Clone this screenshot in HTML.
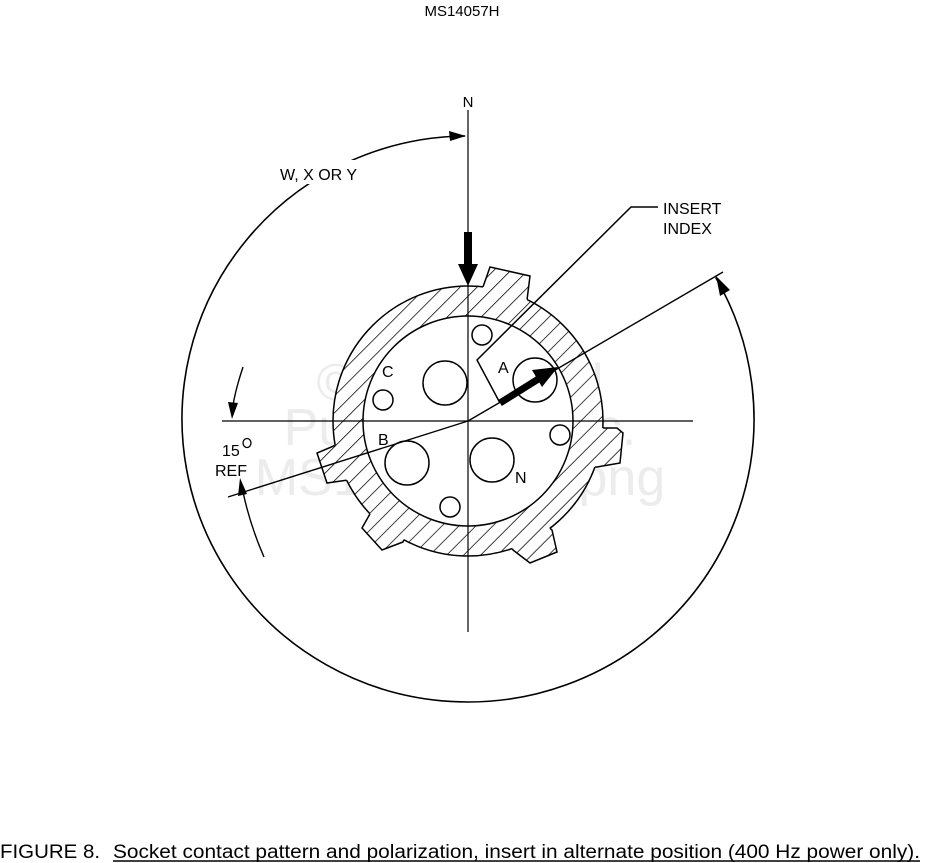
<!DOCTYPE html>
<html><head><meta charset="utf-8"><style>
html,body{margin:0;padding:0;background:#fff;}
svg{display:block;font-family:"Liberation Sans",Arial,sans-serif;}
</style></head><body>
<svg width="925" height="863" viewBox="0 0 925 863" xmlns="http://www.w3.org/2000/svg">
<defs>
<pattern id="h" patternUnits="userSpaceOnUse" width="12" height="12" patternTransform="rotate(45)">
<rect width="12" height="12" fill="#fff"/>
<line x1="0" y1="0" x2="0" y2="12" stroke="#000" stroke-width="1.5"/>
</pattern>
<mask id="km">
<rect width="925" height="863" fill="#fff"/>
<g fill="#000">
<polygon points="483,287 490,267 530,276 527,300 520,315 483,305"/>
<polygon points="336,445 317,453 327,483 348,480 360,478 352,445"/>
<polygon points="362,528 382,550 403,542 410,525 375,505"/>
<polygon points="513,550 530,563 557,552 552,530 540,520 505,535"/>
<polygon points="602,428 617,428 623,433 620,463 597,467 585,467 585,428"/>
</g>
</mask>
</defs>
<rect width="925" height="863" fill="#fff"/>
<text x="462" y="16" font-size="15" text-anchor="middle">MS14057H</text>

<!-- watermark -->
<g fill="#ececec" font-size="52" text-anchor="middle">
<text x="460" y="400">© Integrated</text>
<text x="460" y="445">Publishing, Inc.</text>
<text x="460" y="495">MS14057008.png</text>
</g>

<!-- big dial arc -->
<path d="M715.7,277.5 A286,283 0 1 1 465,136" fill="none" stroke="#000" stroke-width="1.6"/>
<polygon points="466,136 449,131 450,141" fill="#000"/>
<polygon points="716,276 720,296 730,290" fill="#000"/>
<rect x="276" y="160" width="98" height="24" fill="#fff"/>
<text x="280" y="180" font-size="16">W, X OR Y</text>

<!-- axis lines -->
<line x1="468" y1="110" x2="468" y2="632" stroke="#000" stroke-width="1.2"/>
<line x1="222" y1="421" x2="693" y2="421" stroke="#000" stroke-width="1.2"/>
<text x="468" y="107" font-size="15" text-anchor="middle">N</text>

<!-- keys -->
<g fill="url(#h)" stroke="#000" stroke-width="1.5">
<polygon points="483,287 490,267 530,276 527,300 520,315 483,305"/>
<polygon points="336,445 317,453 327,483 348,480 360,478 352,445"/>
<polygon points="362,528 382,550 403,542 410,525 375,505"/>
<polygon points="513,550 530,563 557,552 552,530 540,520 505,535"/>
<polygon points="602,428 617,428 623,433 620,463 597,467 585,467 585,428"/>
</g>
<!-- ring fill -->
<path d="M468,286 a135,135 0 1 0 0.1,0 Z M468,316 a105,105 0 1 1 -0.1,0 Z" fill="url(#h)" fill-rule="evenodd"/>
<circle cx="468" cy="421" r="135" fill="none" stroke="#000" stroke-width="1.5" mask="url(#km)"/>
<circle cx="468" cy="421" r="105" fill="#fff" stroke="#000" stroke-width="1.5"/>
<line x1="468" y1="286" x2="468" y2="556" stroke="#000" stroke-width="1.2"/>
<line x1="333" y1="421" x2="603" y2="421" stroke="#000" stroke-width="1.2"/>

<!-- contacts -->
<g fill="#fff" stroke="#000" stroke-width="1.5">
<circle cx="445" cy="383" r="22"/>
<circle cx="535" cy="380" r="22"/>
<circle cx="407" cy="463" r="22"/>
<circle cx="492" cy="460" r="22"/>
<circle cx="482" cy="335" r="10"/>
<circle cx="383" cy="400" r="10"/>
<circle cx="560" cy="435" r="10"/>
<circle cx="450" cy="507" r="10"/>
</g>
<g font-size="16">
<text x="382" y="377">C</text>
<text x="498" y="373">A</text>
<text x="378" y="445">B</text>
<text x="515" y="483">N</text>
</g>

<!-- insert index -->
<polyline points="658,207 631,207 477,360 500,403" fill="none" stroke="#000" stroke-width="1.5"/>
<text x="663" y="214" font-size="16">INSERT</text>
<text x="663" y="234" font-size="16">INDEX</text>

<!-- reference lines -->
<line x1="228" y1="497" x2="468" y2="421" stroke="#000" stroke-width="1.4"/>
<line x1="468" y1="421" x2="723" y2="272" stroke="#000" stroke-width="1.4"/>
<line x1="500" y1="403" x2="540" y2="378" stroke="#000" stroke-width="7"/>
<polygon points="558,367 532,370 542,387" fill="#000"/>

<!-- N arrow -->
<rect x="464" y="232" width="8" height="36" fill="#000"/>
<polygon points="458,264 478,264 468,286" fill="#000"/>

<!-- 15 deg ref -->
<path d="M243,367 Q236,388 233,405" fill="none" stroke="#000" stroke-width="1.4"/>
<polygon points="232,419 228,402 238,403" fill="#000"/>
<path d="M264,557 Q250,525 243,492" fill="none" stroke="#000" stroke-width="1.4"/>
<polygon points="240,478 238,496 247,494" fill="#000"/>
<text x="222" y="456" font-size="16">15</text>
<ellipse cx="247" cy="443" rx="4" ry="4.5" fill="none" stroke="#000" stroke-width="1.3"/>
<text x="215" y="476" font-size="16">REF</text>

<!-- caption -->
<text x="0" y="858" font-size="19" textLength="100" lengthAdjust="spacingAndGlyphs">FIGURE 8.</text>
<text x="113" y="858" font-size="19" textLength="807" lengthAdjust="spacingAndGlyphs">Socket contact pattern and polarization, insert in alternate position (400 Hz power only).</text>
<line x1="113" y1="861" x2="920" y2="861" stroke="#000" stroke-width="1.5"/>
</svg>
</body></html>
